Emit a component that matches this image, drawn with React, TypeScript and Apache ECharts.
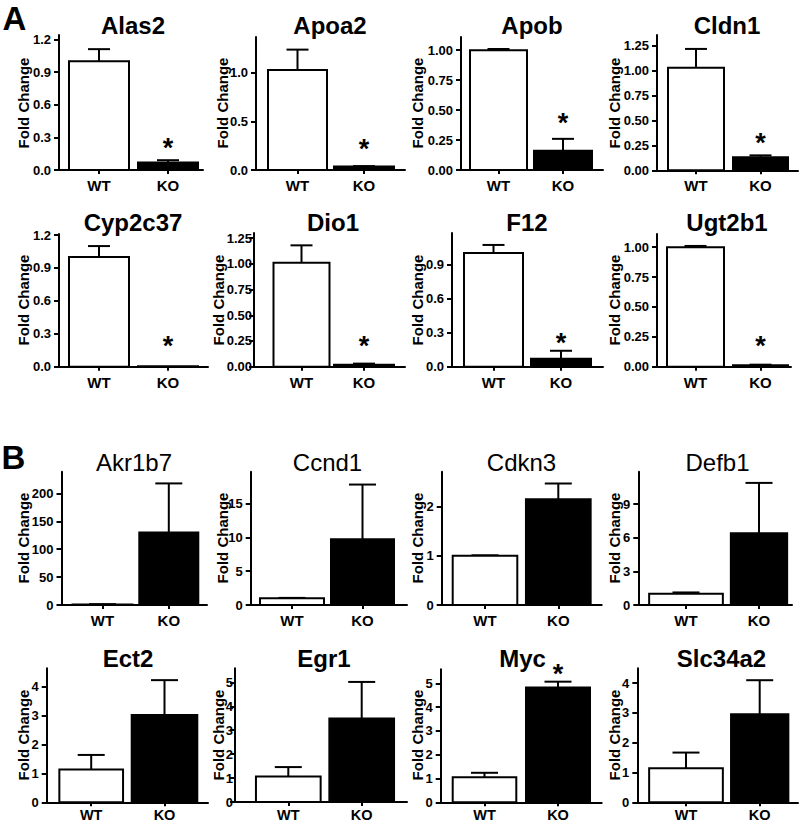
import React, { useEffect, useRef } from 'react';
import * as echarts from 'echarts';

// ---------- data ----------
const genes = ['Alas2', 'Apoa2', 'Apob', 'Cldn1', 'Cyp2c37', 'Dio1', 'F12', 'Ugt2b1',
  'Akr1b7', 'Ccnd1', 'Cdkn3', 'Defb1', 'Ect2', 'Egr1', 'Myc', 'Slc34a2'];
const groups = ['WT', 'KO'];
const wtMean = [1.00, 1.03, 1.00, 1.03, 1.00, 1.01, 1.00, 1.00, 1.0, 1.0, 1.0, 1.0, 1.14, 1.07, 1.05, 1.14];
const wtSem = [0.11, 0.21, 0.01, 0.19, 0.10, 0.17, 0.07, 0.01, 0.5, 0.05, 0.01, 0.12, 0.50, 0.39, 0.19, 0.53];
const koMean = [0.07, 0.035, 0.16, 0.13, 0.003, 0.02, 0.07, 0.012, 130, 9.7, 2.15, 6.4, 3.02, 3.49, 4.82, 2.96];
const koSem = [0.02, 0.005, 0.10, 0.02, 0, 0.01, 0.07, 0.005, 88, 8.1, 0.32, 4.5, 1.21, 1.53, 0.25, 1.14];
const starAt: (number | null)[] = [0.26, 0.28, 0.44, 0.33, 0.24, 0.26, 0.26, 0.22, null, null, null, null, null, null, 5.64, null];
const yMax = [1.24, 1.37, 1.11, 1.36, 1.21, 1.30, 1.175, 1.11, 239, 19.7, 2.71, 11.9, 4.64, 5.59, 5.59, 4.5];
const yStep = [0.3, 0.5, 0.25, 0.25, 0.3, 0.25, 0.3, 0.25, 50, 5, 1, 3, 1, 1, 1, 1];
const yDecimals = [1, 1, 2, 2, 1, 2, 1, 2, 0, 0, 0, 0, 0, 0, 0, 0];

// ---------- layout (pixels) ----------
// [axisX, axisEnd, top, baseline, wtCenter, koCenter, wtWidth, koWidth]
const layout: number[][] = [
  [59, 203, 35, 170, 99, 168, 62, 62],
  [256, 405, 37, 170, 297.5, 364, 61, 62],
  [461, 603, 37, 170, 498.5, 563, 59, 60],
  [657, 798, 35, 170.3, 696, 760.5, 58, 57],
  [59, 208, 234, 366.7, 99, 168, 62, 62],
  [254, 405, 233, 366.7, 301.5, 364, 58, 62],
  [452, 603, 233, 366.7, 493.5, 561, 61, 62],
  [657, 791, 234, 366.7, 695.5, 760.5, 59, 57],
  [61.5, 207, 471.7, 605, 102.5, 168.8, 62, 61],
  [250.7, 407, 471.7, 605, 292, 362.5, 66, 65],
  [441.7, 601.7, 471.7, 605, 485, 558.3, 66.6, 66.7],
  [638.3, 792, 471.7, 605, 686, 759, 75.7, 58.3],
  [46.7, 208, 668.3, 802.3, 91.2, 164.5, 65.7, 67.6],
  [235, 407, 668.3, 802, 288.3, 361.7, 66.7, 66.7],
  [440.7, 601.7, 669.3, 802.3, 484.5, 558, 65.6, 66],
  [637.3, 798, 668.3, 802.3, 686, 759.7, 75.7, 59.3],
];
const yLabelMargin = [8, 8, 8, 8, 8, 2, 8, 8, 8, 8, 8, 8, 8, 2, 8, 8];
const titleX = [133, 330, 532, 727, 133, 333, 527, 727, 134, 327.5, 521.5, 717.5, 128, 324, 522.5, 721.5];
const titleRowY = [25, 222.5, 462.5, 658.5];
const titleRowWeight = ['bold', 'bold', 'normal', 'bold'];
const xLabelMargin = [8, 8, 8, 5];
const nameX = [23, 222, 417.5, 614, 23, 218, 417.5, 614, 23, 222, 417.5, 614, 23, 218, 417.5, 614];
const nameRowY = [103, 300, 538, 735];

const FONT = '"Liberation Sans", Arial, Helvetica, sans-serif';

function buildOption() {
  const grid: any[] = [];
  const xAxis: any[] = [];
  const yAxis: any[] = [];
  const series: any[] = [];
  const graphic: any[] = [];

  genes.forEach((gene, i) => {
    const [L, E, top, base, c1, c2, w1, w2] = layout[i];
    const row = Math.floor(i / 4);
    const span = c2 - c1;
    const xMin = -(c1 - L) / span;
    const xMax = 1 + (E - c2) / span;
    grid.push({ left: L, top, width: E - L, height: base - top, outerBoundsMode: 'none', containLabel: false });

    const ticks: number[] = [];
    for (let k = 0; k * yStep[i] <= yMax[i] + 1e-9; k++) {
      ticks.push(Number((k * yStep[i]).toFixed(4)));
    }

    xAxis.push({
      gridIndex: i,
      type: 'value',
      min: xMin,
      max: xMax,
      axisLine: { show: true, onZero: false, lineStyle: { color: '#000', width: 2 } },
      axisTick: { show: true, length: 4, customValues: [0, 1], lineStyle: { color: '#000', width: 2 } },
      axisLabel: {
        customValues: [0, 1],
        formatter: (v: number) => groups[Math.round(v)] ?? '',
        color: '#000', fontWeight: 'bold', fontSize: row === 3 ? 14.5 : 15, margin: xLabelMargin[row], fontFamily: FONT,
      },
      splitLine: { show: false },
    });
    yAxis.push({
      gridIndex: i,
      type: 'value',
      min: 0,
      max: yMax[i],
      axisLine: { show: true, onZero: false, lineStyle: { color: '#000', width: 2 } },
      axisTick: { show: true, length: 5, customValues: ticks, lineStyle: { color: '#000', width: 2 } },
      axisLabel: {
        customValues: ticks,
        formatter: (v: number) => v.toFixed(yDecimals[i]),
        color: '#000', fontWeight: 'bold', fontSize: 13, margin: yLabelMargin[i], fontFamily: FONT,
      },
      splitLine: { show: false },
    });

    const capW = i < 8 ? 22 : 27;
    const star = starAt[i];
    series.push({
      type: 'custom',
      xAxisIndex: i,
      yAxisIndex: i,
      clip: false,
      data: [
        [0, wtMean[i], wtSem[i]],
        [1, koMean[i], koSem[i]],
      ],
      renderItem: (params: any, api: any) => {
        const idx = api.value(0);
        const mean = api.value(1);
        const sem = api.value(2);
        const b = api.coord([idx, 0]);
        const t = api.coord([idx, mean]);
        const e = api.coord([idx, mean + sem]);
        const w = (idx === 0 ? w1 : w2) - 2;
        const children: any[] = [];
        if (sem > 0) {
          children.push({
            type: 'line',
            shape: { x1: t[0], y1: t[1], x2: e[0], y2: e[1] },
            style: { stroke: '#000', lineWidth: 2 },
          });
          children.push({
            type: 'line',
            shape: { x1: e[0] - capW / 2, y1: e[1], x2: e[0] + capW / 2, y2: e[1] },
            style: { stroke: '#000', lineWidth: 2 },
          });
        }
        children.push({
          type: 'rect',
          shape: { x: b[0] - w / 2, y: t[1], width: w, height: Math.max(b[1] - t[1], 0) },
          style: { fill: idx === 0 ? '#fff' : '#000', stroke: '#000', lineWidth: 2 },
        });
        if (idx === 1 && star != null) {
          const s = api.coord([1, star]);
          children.push({
            type: 'text',
            x: s[0],
            y: s[1] + 6,
            style: {
              text: '*', fontSize: 27, fontWeight: 'bold', fill: '#000',
              align: 'center', verticalAlign: 'middle', fontFamily: FONT,
            },
          });
        }
        return { type: 'group', children };
      },
    });

    graphic.push({
      type: 'text',
      x: titleX[i],
      y: titleRowY[row],
      style: {
        text: gene, fontSize: 24, fontWeight: titleRowWeight[row], fill: '#000',
        align: 'center', verticalAlign: 'middle', fontFamily: FONT,
      },
    });
    graphic.push({
      type: 'text',
      x: nameX[i],
      y: nameRowY[row],
      rotation: Math.PI / 2,
      style: {
        text: 'Fold Change', fontSize: 15, fontWeight: 'bold', fill: '#000',
        align: 'center', verticalAlign: 'middle', fontFamily: FONT,
      },
    });
  });

  graphic.push({
    type: 'text', x: 14.5, y: 18,
    style: { text: 'A', fontSize: 33, fontWeight: 'bold', fill: '#000', align: 'center', verticalAlign: 'middle', fontFamily: FONT },
  });
  graphic.push({
    type: 'text', x: 13.5, y: 457,
    style: { text: 'B', fontSize: 33, fontWeight: 'bold', fill: '#000', align: 'center', verticalAlign: 'middle', fontFamily: FONT },
  });

  return {
    animation: false,
    backgroundColor: '#ffffff',
    grid,
    xAxis,
    yAxis,
    series,
    graphic,
  };
}

export default function App() {
  const ref = useRef<HTMLDivElement>(null);
  useEffect(() => {
    document.body.style.margin = '0';
    if (!ref.current) return;
    const chart = echarts.init(ref.current, null, { renderer: 'svg' });
    chart.setOption(buildOption() as any);
    return () => chart.dispose();
  }, []);
  return <div ref={ref} style={{ width: 800, height: 824 }} />;
}
